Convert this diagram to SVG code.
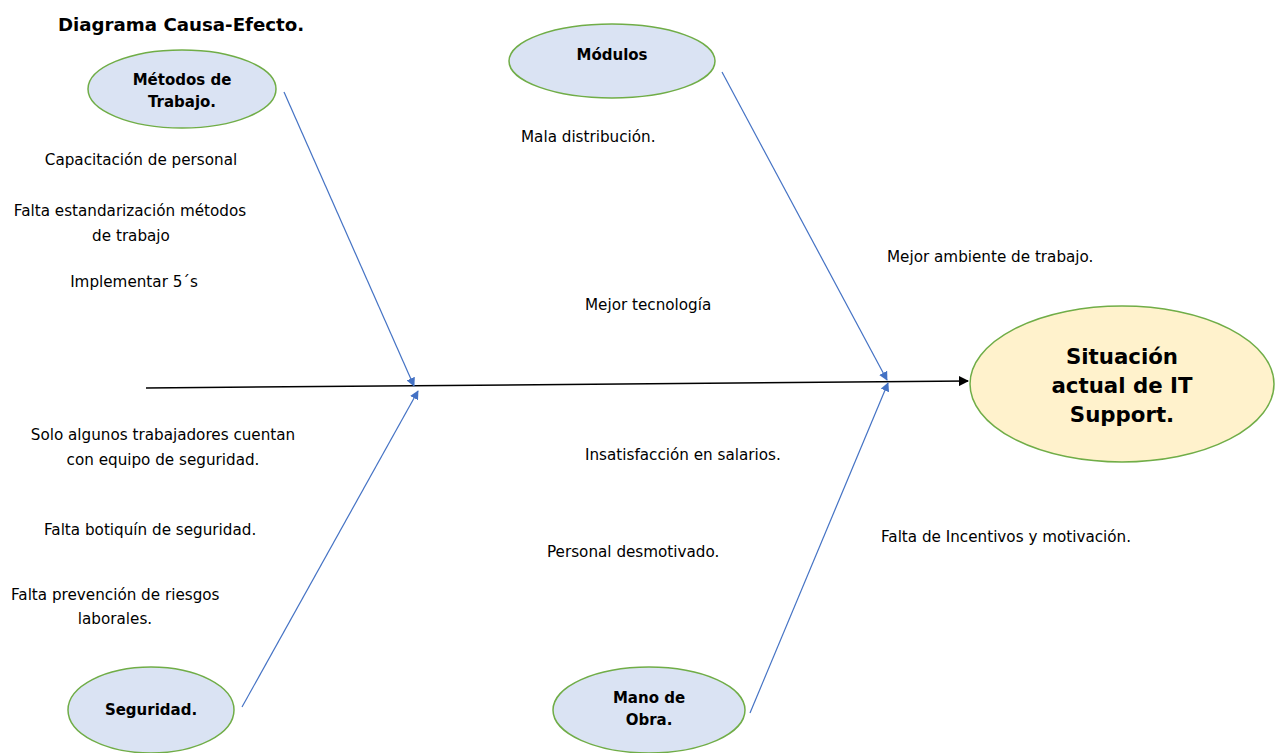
<svg xmlns="http://www.w3.org/2000/svg" width="1281" height="753" viewBox="0 0 1281 753">
  <style>
    .cause { fill: #DAE3F3; stroke: #70AD47; stroke-width: 1.5; }
    .effect { fill: #FFF2CC; stroke: #70AD47; stroke-width: 1.5; }
    .lbl { font-family: "DejaVu Sans", Verdana, sans-serif; font-size: 15.2px; fill: #000; }
    .head { font-family: "DejaVu Sans", Verdana, sans-serif; font-size: 15px; font-weight: bold; fill: #000; text-anchor: middle; }
    .big { font-family: "DejaVu Sans", Verdana, sans-serif; font-size: 21.3px; font-weight: bold; fill: #000; text-anchor: middle; }
    .title { font-family: "DejaVu Sans", Verdana, sans-serif; font-size: 18.2px; font-weight: bold; fill: #000; }
    .bone { stroke: #4472C4; stroke-width: 1.2; fill: none; }
    .spine { stroke: #000; stroke-width: 1.5; fill: none; }
  </style>
  <defs>
    <marker id="ahBlue" viewBox="0 0 10 10" refX="9" refY="5" markerWidth="9" markerHeight="9" orient="auto" markerUnits="userSpaceOnUse">
      <path d="M0,0 L10,5 L0,10 z" fill="#4472C4"/>
    </marker>
    <marker id="ahBlack" viewBox="0 0 10 10" refX="9" refY="5" markerWidth="10" markerHeight="10" orient="auto" markerUnits="userSpaceOnUse">
      <path d="M0,0 L10,5 L0,10 z" fill="#000"/>
    </marker>
  </defs>
  <rect width="1281" height="753" fill="#fff"/>

  <text class="title" x="58" y="31">Diagrama Causa-Efecto.</text>

  <!-- spine and bones -->
  <g id="connectors">
    <line class="spine" x1="146" y1="388" x2="968" y2="381" marker-end="url(#ahBlack)"/>
    <line class="bone" x1="284" y1="92" x2="414" y2="386" marker-end="url(#ahBlue)"/>
    <line class="bone" x1="242" y1="707" x2="418" y2="391" marker-end="url(#ahBlue)"/>
    <line class="bone" x1="722" y1="72" x2="887" y2="380" marker-end="url(#ahBlue)"/>
    <line class="bone" x1="750" y1="713" x2="888" y2="383" marker-end="url(#ahBlue)"/>
  </g>

  <g id="metodos">
    <ellipse class="cause" cx="182" cy="89" rx="94" ry="39"/>
    <text class="head" x="182" y="85">Métodos de</text>
    <text class="head" x="182" y="107">Trabajo.</text>
  </g>
  <g id="modulos">
    <ellipse class="cause" cx="612" cy="61" rx="103" ry="37"/>
    <text class="head" x="612" y="60">Módulos</text>
  </g>
  <g id="seguridad">
    <ellipse class="cause" cx="151" cy="710" rx="83" ry="43"/>
    <text class="head" x="151" y="715">Seguridad.</text>
  </g>
  <g id="mano-obra">
    <ellipse class="cause" cx="649" cy="710" rx="96" ry="43"/>
    <text class="head" x="649" y="703">Mano de</text>
    <text class="head" x="649" y="725">Obra.</text>
  </g>
  <g id="efecto">
    <ellipse class="effect" cx="1122" cy="384" rx="152" ry="78"/>
    <text class="big" x="1122" y="364">Situación</text>
    <text class="big" x="1122" y="393">actual de IT</text>
    <text class="big" x="1122" y="422">Support.</text>
  </g>

  <g id="causas">
    <text class="lbl" x="141" y="165" text-anchor="middle">Capacitación de personal</text>
    <text class="lbl" x="130" y="216" text-anchor="middle">Falta estandarización métodos</text>
    <text class="lbl" x="131" y="241" text-anchor="middle">de trabajo</text>
    <text class="lbl" x="134" y="287" text-anchor="middle">Implementar 5´s</text>
    <text class="lbl" x="521" y="142">Mala distribución.</text>
    <text class="lbl" x="887" y="262">Mejor ambiente de trabajo.</text>
    <text class="lbl" x="585" y="310">Mejor tecnología</text>
    <text class="lbl" x="163" y="440" text-anchor="middle">Solo algunos trabajadores cuentan</text>
    <text class="lbl" x="163" y="465" text-anchor="middle">con equipo de seguridad.</text>
    <text class="lbl" x="585" y="460">Insatisfacción en salarios.</text>
    <text class="lbl" x="44" y="535">Falta botiquín de seguridad.</text>
    <text class="lbl" x="881" y="542">Falta de Incentivos y motivación.</text>
    <text class="lbl" x="547" y="557">Personal desmotivado.</text>
    <text class="lbl" x="11" y="600">Falta prevención de riesgos</text>
    <text class="lbl" x="115" y="624" text-anchor="middle">laborales.</text>
  </g>
</svg>
